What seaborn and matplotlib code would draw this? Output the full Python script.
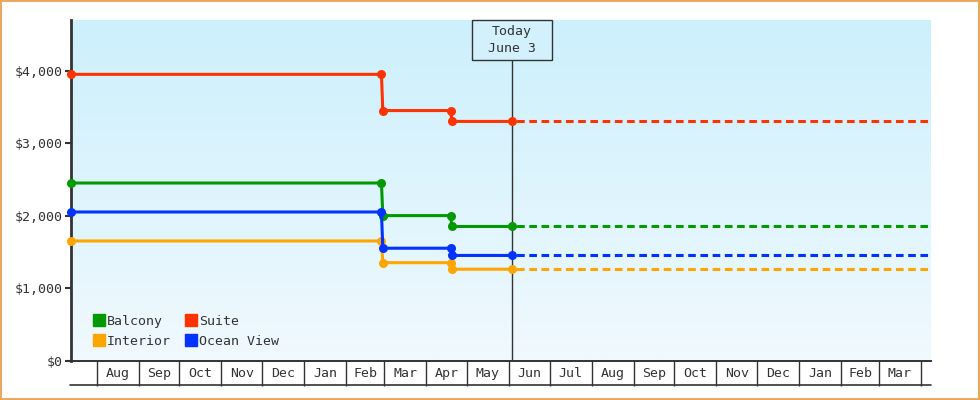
import numpy as np
import pandas as pd
import matplotlib
matplotlib.use("Agg")
import matplotlib.pyplot as plt
import matplotlib.dates as mdates
from matplotlib.lines import Line2D
from matplotlib.patches import Rectangle
import seaborn as sns

# price history per cabin type
dates = ["2016-07-13", "2017-02-27", "2017-02-28", "2017-04-19", "2017-04-20", "2017-06-03"]
balcony = [2450, 2450, 2000, 2000, 1850, 1850]
suite = [3950, 3950, 3450, 3450, 3300, 3300]
interior = [1650, 1650, 1350, 1350, 1260, 1260]
ocean_view = [2050, 2050, 1550, 1550, 1450, 1450]
cabins = ["Balcony", "Interior", "Suite", "Ocean View"]
colors = {"Balcony": "#009900", "Suite": "#ff3300", "Interior": "#ffa500", "Ocean View": "#0033ff"}

today = "2017-06-03"
today_label = "Today\nJune 3"
x_start = "2016-07-13"
x_end = "2018-04-08"
month_labels = ["Aug", "Sep", "Oct", "Nov", "Dec", "Jan", "Feb", "Mar", "Apr", "May", "Jun",
                "Jul", "Aug", "Sep", "Oct", "Nov", "Dec", "Jan", "Feb", "Mar"]
y_ticks = [0, 1000, 2000, 3000, 4000]

series = {"Balcony": balcony, "Suite": suite, "Interior": interior, "Ocean View": ocean_view}
rows = []
for name, vals in series.items():
    for d, v in zip(dates, vals):
        rows.append({"date": pd.Timestamp(d), "price": v, "cabin": name})
df = pd.DataFrame(rows)

# flat projection after today
proj = []
for name, vals in series.items():
    proj.append({"date": pd.Timestamp(today), "price": vals[-1], "cabin": name})
    proj.append({"date": pd.Timestamp(x_end), "price": vals[-1], "cabin": name})
df_proj = pd.DataFrame(proj)

sns.set_theme(style="white")
plt.rcParams["font.family"] = ["DejaVu Sans Mono", "DejaVu Sans"]
dark = "#333333"

fig = plt.figure(figsize=(9.8, 4.0), dpi=100)
fig.patch.set_facecolor("white")
fig.patch.set_edgecolor("#e8a860")
fig.patch.set_linewidth(1.5)
ax = fig.add_axes([71 / 980, 1 - 360.5 / 400, (930.5 - 71) / 980, (360.5 - 20) / 400])

# gradient background
top_c = np.array([204, 240, 252]) / 255
bot_c = np.array([240, 249, 254]) / 255
t = np.linspace(0, 1, 256)[:, None]
grad = (top_c * (1 - t) + bot_c * t)[:, None, :]
ax.imshow(grad, extent=[0, 1, 0, 1], transform=ax.transAxes, aspect="auto", zorder=0)

sns.lineplot(data=df_proj, x="date", y="price", hue="cabin", palette=colors, ax=ax,
             legend=False, estimator=None, linewidth=2.2,
             linestyle=(2.5, (2.5, 1.5)), zorder=3)
sns.lineplot(data=df, x="date", y="price", hue="cabin", palette=colors, ax=ax,
             legend=False, estimator=None, sort=False, linewidth=2.2,
             marker="o", markersize=6.5, markeredgewidth=0, zorder=4, clip_on=False)

ax.set_xlim(pd.Timestamp(x_start), pd.Timestamp(x_end))
ax.set_ylim(0, 4700)
ax.set_xlabel("")
ax.set_ylabel("")

for s in ["top", "right"]:
    ax.spines[s].set_visible(False)
ax.spines["left"].set_color(dark)
ax.spines["left"].set_linewidth(2)
ax.spines["bottom"].set_color(dark)
ax.spines["bottom"].set_linewidth(1.4)

ax.set_yticks(y_ticks)
ax.set_yticklabels([f"${v:,}" for v in y_ticks])
ax.tick_params(axis="y", left=True, length=4.3, width=1.5, color=dark, pad=1.5,
               labelsize=9.5, labelcolor=dark)

# month cells below the axis
month_starts = pd.date_range("2016-08-01", periods=len(month_labels) + 1, freq="MS")
mids = [a + (b - a) / 2 for a, b in zip(month_starts[:-1], month_starts[1:])]
ax.set_xticks(month_starts)
ax.set_xticklabels([])
ax.set_xticks(mids, minor=True)
ax.set_xticklabels(month_labels, minor=True)
ax.tick_params(axis="x", which="major", bottom=True, length=18, width=1.0, color=dark)
ax.tick_params(axis="x", which="minor", bottom=True, length=0, pad=4.5,
               labelsize=9.5, labelcolor=dark)

fig.add_artist(Line2D([70 / 980, 930.5 / 980], [1 - 385 / 400] * 2, color=dark, lw=1.2))

# today marker
fig.canvas.draw()
tx = ax.transData.transform((mdates.date2num(pd.Timestamp(today)), 0))[0]
ax_top = ax.transAxes.transform((0, 1))[1]
ax_bot = ax.transAxes.transform((0, 0))[1]
box_h = 40
ax.add_line(Line2D([tx, tx], [ax_bot, ax_top - box_h], transform=None, color=dark, lw=1, zorder=2))
fig.add_artist(Rectangle((tx - 40, ax_top - box_h), 80, box_h, transform=None,
                         facecolor="#d2f1fc", edgecolor=dark, lw=1, zorder=5))
fig.text(tx / 980, (ax_top - box_h / 2) / 400, today_label, ha="center", va="center",
         fontsize=9.5, color=dark, linespacing=1.35, zorder=6)

handles = [Line2D([], [], marker="s", linestyle="", markersize=8, color=colors[c]) for c in cabins]
ax.legend(handles, cabins, ncol=2, loc="lower left", frameon=False,
          bbox_to_anchor=((93.5 - 71) / 859.5, (360.5 - 348) / 340.5),
          borderpad=0, borderaxespad=0, handlelength=0.8, handletextpad=0.2,
          columnspacing=1.15, labelspacing=0.55, fontsize=9.5, labelcolor=dark)

fig.savefig("out.png", dpi=100)
